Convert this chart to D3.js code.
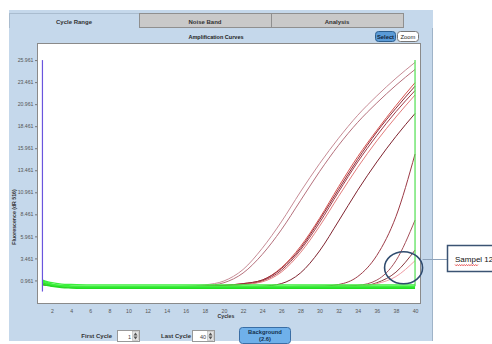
<!DOCTYPE html>
<html>
<head>
<meta charset="utf-8">
<script src="https://cdn.jsdelivr.net/npm/d3@7"></script>
<style>
  html, body { margin: 0; padding: 0; background: #fff; }
  svg { display: block; font-family: 'Liberation Sans', Arial, sans-serif; }
</style>
</head>
<body>
<svg id="chart" width="492" height="344"></svg>
<script>
const cycles = [1, 2, 3, 4, 6, 8, 10, 12, 14, 16, 18, 20, 22, 24, 26, 28, 30, 32, 34, 36, 38, 40]

// positive samples
const sampleA1 = [0.7, 0.45, 0.3, 0.25, 0.2, 0.2, 0.2, 0.2, 0.25, 0.3, 0.45, 0.9, 2.2, 4.6, 7.6, 11.0, 14.2, 17.1, 19.7, 21.9, 23.9, 25.7]
const sampleA2 = [0.6, 0.4, 0.3, 0.25, 0.2, 0.2, 0.2, 0.2, 0.2, 0.25, 0.35, 0.7, 1.8, 3.9, 6.7, 10.0, 13.3, 16.3, 18.9, 21.1, 23.1, 24.9]
const sampleB1 = [0.6, 0.4, 0.3, 0.25, 0.2, 0.2, 0.2, 0.2, 0.2, 0.2, 0.3, 0.4, 0.6, 1.0, 2.4, 4.8, 8.0, 11.6, 15.0, 18.0, 20.8, 23.4]
const sampleB2 = [0.5, 0.35, 0.25, 0.2, 0.2, 0.2, 0.2, 0.2, 0.2, 0.2, 0.25, 0.35, 0.5, 0.9, 2.1, 4.4, 7.5, 11.0, 14.4, 17.4, 20.1, 22.5]
const sampleB3 = [0.6, 0.4, 0.3, 0.2, 0.2, 0.2, 0.2, 0.2, 0.2, 0.2, 0.25, 0.3, 0.5, 0.8, 1.9, 4.1, 7.1, 10.5, 13.8, 16.8, 19.5, 22.0]
const sampleB4 = [0.5, 0.35, 0.3, 0.25, 0.2, 0.2, 0.2, 0.2, 0.2, 0.2, 0.3, 0.4, 0.6, 1.0, 2.3, 4.6, 7.8, 11.3, 14.7, 17.8, 20.5, 23.0]
const sampleC = [0.6, 0.4, 0.3, 0.25, 0.2, 0.2, 0.2, 0.2, 0.2, 0.2, 0.2, 0.25, 0.25, 0.3, 0.6, 1.8, 4.3, 7.7, 11.2, 14.4, 17.3, 19.9]
const sampleD = [0.5, 0.35, 0.25, 0.2, 0.2, 0.2, 0.2, 0.2, 0.2, 0.2, 0.2, 0.2, 0.2, 0.25, 0.25, 0.3, 0.3, 0.5, 1.4, 3.8, 8.2, 15.3]
const sampleE = [0.6, 0.4, 0.3, 0.25, 0.2, 0.2, 0.2, 0.2, 0.2, 0.2, 0.2, 0.2, 0.2, 0.2, 0.25, 0.25, 0.3, 0.3, 0.4, 1.0, 3.2, 7.8]
const sampleF = [0.5, 0.35, 0.25, 0.2, 0.2, 0.2, 0.2, 0.2, 0.2, 0.2, 0.2, 0.2, 0.2, 0.2, 0.2, 0.25, 0.25, 0.3, 0.3, 0.7, 1.9, 4.4]
const sampel12 = [0.6, 0.4, 0.3, 0.25, 0.2, 0.2, 0.2, 0.2, 0.2, 0.2, 0.2, 0.2, 0.2, 0.2, 0.2, 0.2, 0.25, 0.25, 0.3, 0.6, 1.4, 3.2]

// negative samples (flat, green)
const neg1 = [0.9, 0.55, 0.4, 0.35, 0.3, 0.3, 0.3, 0.3, 0.3, 0.3, 0.3, 0.3, 0.3, 0.3, 0.3, 0.3, 0.3, 0.3, 0.3, 0.3, 0.3, 0.3]
const neg2 = [0.7, 0.4, 0.25, 0.2, 0.15, 0.15, 0.15, 0.15, 0.15, 0.15, 0.15, 0.15, 0.15, 0.15, 0.15, 0.15, 0.15, 0.15, 0.15, 0.15, 0.15, 0.15]
const neg3 = [1.0, 0.7, 0.55, 0.5, 0.45, 0.45, 0.45, 0.45, 0.45, 0.45, 0.45, 0.45, 0.45, 0.45, 0.45, 0.45, 0.45, 0.45, 0.45, 0.45, 0.45, 0.45]
const neg4 = [0.5, 0.3, 0.15, 0.1, 0.05, 0.05, 0.05, 0.05, 0.05, 0.05, 0.05, 0.05, 0.05, 0.05, 0.05, 0.05, 0.05, 0.05, 0.05, 0.05, 0.05, 0.05]
const neg5 = [0.8, 0.5, 0.35, 0.25, 0.22, 0.22, 0.22, 0.22, 0.22, 0.22, 0.22, 0.22, 0.22, 0.22, 0.22, 0.22, 0.22, 0.22, 0.22, 0.22, 0.22, 0.22]

const positives = [
  { name: 'A1', values: sampleA1, color: '#c78c96' },
  { name: 'A2', values: sampleA2, color: '#b5707c' },
  { name: 'B1', values: sampleB1, color: '#d9534f' },
  { name: 'B2', values: sampleB2, color: '#a23b48' },
  { name: 'B3', values: sampleB3, color: '#e27c7c' },
  { name: 'B4', values: sampleB4, color: '#8e2a36' },
  { name: 'C', values: sampleC, color: '#7f2430' },
  { name: 'D', values: sampleD, color: '#9c3a46' },
  { name: 'E', values: sampleE, color: '#a5505a' },
  { name: 'F', values: sampleF, color: '#8a3a40' },
  { name: 'Sampel 12', values: sampel12, color: '#f09aa2' },
]
const negatives = [neg1, neg2, neg3, neg4, neg5]

const yTicks = [0.961, 3.461, 5.961, 8.461, 10.961, 13.461, 15.961, 18.461, 20.961, 23.461, 25.961]
const xTicks = [2, 4, 6, 8, 10, 12, 14, 16, 18, 20, 22, 24, 26, 28, 30, 32, 34, 36, 38, 40]
const tabs = ['Cycle Range', 'Noise Band', 'Analysis']
const firstCycle = 1
const lastCycle = 40
const background = 2.6
const markerTop = 25.961

const svg = d3.select('#chart')

const plot = { left: 37, top: 43, right: 420, bottom: 303 }

// Panel background
svg.append('rect').attr('x', 9).attr('y', 10).attr('width', 424).attr('height', 331)
  .attr('fill', '#c5d8eb')
svg.append('line').attr('x1', 432.5).attr('x2', 432.5).attr('y1', 28).attr('y2', 341)
  .attr('stroke', '#9fb3c8')

// Tabs
const tabX = [9, 139, 271, 403]
tabs.forEach((t, i) => {
  const x0 = tabX[i]
  const w = tabX[i + 1] - x0
  svg.append('rect')
    .attr('x', x0 + 0.5).attr('y', 13.5).attr('width', w).attr('height', 14)
    .attr('fill', i === 0 ? '#c5d8eb' : '#c9c9c9')
    .attr('stroke', i === 0 ? '#a9bccf' : '#8f8f8f')
  svg.append('text')
    .attr('x', x0 + w / 2).attr('y', 23.5)
    .attr('text-anchor', 'middle')
    .attr('font-size', '6px').attr('font-weight', 'bold')
    .attr('fill', '#333')
    .text(t)
})
// selected tab opens into panel
svg.append('line').attr('x1', 10).attr('x2', 139).attr('y1', 27.5).attr('y2', 27.5)
  .attr('stroke', '#c5d8eb').attr('stroke-width', 1.2)

// Chart title
svg.append('text').attr('x', 216).attr('y', 38.5).attr('text-anchor', 'middle')
  .attr('font-size', '5.5px').attr('font-weight', 'bold').attr('fill', '#222')
  .text('Amplification Curves')

// Select / Zoom buttons
svg.append('rect').attr('x', 375.5).attr('y', 31.5).attr('width', 20).attr('height', 10).attr('rx', 3)
  .attr('fill', '#5a9ad6').attr('stroke', '#2d5f8f')
svg.append('text').attr('x', 385.5).attr('y', 39).attr('text-anchor', 'middle')
  .attr('font-size', '5.8px').attr('font-weight', 'bold').attr('fill', '#10243a').text('Select')
svg.append('rect').attr('x', 397.5).attr('y', 31.5).attr('width', 21).attr('height', 10).attr('rx', 3)
  .attr('fill', '#fff').attr('stroke', '#777')
svg.append('text').attr('x', 408).attr('y', 39).attr('text-anchor', 'middle')
  .attr('font-size', '5.8px').attr('fill', '#222').text('Zoom')

// Plot area
svg.append('rect')
  .attr('x', plot.left + 0.5).attr('y', plot.top + 0.5)
  .attr('width', plot.right - plot.left).attr('height', plot.bottom - plot.top)
  .attr('fill', '#fff').attr('stroke', '#8a8a8a')

const x = d3.scaleLinear().domain([0.43, 40.52]).range([plot.left, plot.right])
const y = d3.scaleLinear().domain([-1.6, 27.9]).range([plot.bottom, plot.top])

// Axes
const yAxis = svg.append('g').attr('transform', `translate(${plot.left},0)`)
  .call(d3.axisLeft(y).tickValues(yTicks).tickSize(2).tickPadding(1.5).tickFormat(d3.format('.3f')))
yAxis.select('.domain').remove()
yAxis.selectAll('line').attr('stroke', '#777')
yAxis.selectAll('text').attr('font-size', '5.2px').attr('fill', '#555').attr('font-family', 'Liberation Sans, Arial')

const xAxis = svg.append('g').attr('transform', `translate(0,${plot.bottom})`)
  .call(d3.axisBottom(x).tickValues(xTicks).tickSize(0).tickPadding(6))
xAxis.select('.domain').remove()
xAxis.selectAll('text').attr('font-size', '5.2px').attr('fill', '#555').attr('font-family', 'Liberation Sans, Arial')

svg.append('text').attr('x', x(20) + 2).attr('y', 318).attr('text-anchor', 'middle')
  .attr('font-size', '5.2px').attr('font-weight', 'bold').attr('fill', '#333').text('Cycles')

svg.append('text')
  .attr('transform', `translate(16,${(plot.top + plot.bottom) / 2 + 44}) rotate(-90)`)
  .attr('text-anchor', 'middle')
  .attr('font-size', '5.2px').attr('font-weight', 'bold').attr('fill', '#333')
  .text('Fluorescence (dR 516)')

// Curves
const line = d3.line()
  .x((d, i) => x(cycles[i]))
  .y(d => y(d))
  .curve(d3.curveMonotoneX)

const curves = svg.append('g').attr('fill', 'none')

curves.selectAll('path.pos')
  .data(positives)
  .enter()
  .append('path')
  .attr('class', 'pos')
  .attr('d', d => line(d.values))
  .attr('stroke', d => d.color)
  .attr('stroke-width', 1)

curves.selectAll('path.neg')
  .data(negatives)
  .enter()
  .append('path')
  .attr('class', 'neg')
  .attr('d', d => line(d))
  .attr('stroke', (d, i) => (i % 2 ? '#22dd22' : '#3cf03c'))
  .attr('stroke-width', 1.3)

// cycle range markers
svg.append('line')
  .attr('x1', x(firstCycle)).attr('x2', x(firstCycle))
  .attr('y1', y(markerTop)).attr('y2', y(-0.3))
  .attr('stroke', '#6a55dd').attr('stroke-width', 1.2)
svg.append('line')
  .attr('x1', x(lastCycle)).attr('x2', x(lastCycle))
  .attr('y1', y(markerTop)).attr('y2', y(0.3))
  .attr('stroke', '#4fe04f').attr('stroke-width', 1.2)

// Bottom controls
function spinBox(x0, label) {
  svg.append('rect').attr('x', x0 + 0.5).attr('y', 330.5).attr('width', 22).attr('height', 11)
    .attr('fill', '#fff').attr('stroke', '#999')
  svg.append('text').attr('x', x0 + 14).attr('y', 338.5).attr('text-anchor', 'end')
    .attr('font-size', '5.5px').attr('fill', '#444').text(label)
  svg.append('rect').attr('x', x0 + 15.5).attr('y', 331.5).attr('width', 6).attr('height', 9)
    .attr('fill', '#e4e4e4').attr('stroke', '#aaa').attr('stroke-width', 0.5)
  svg.append('path').attr('d', `M${x0 + 16.5},335.5 L${x0 + 20.5},335.5 L${x0 + 18.5},332.5 Z`).attr('fill', '#555')
  svg.append('path').attr('d', `M${x0 + 16.5},336.5 L${x0 + 20.5},336.5 L${x0 + 18.5},339.5 Z`).attr('fill', '#555')
}
svg.append('text').attr('x', 112).attr('y', 338).attr('text-anchor', 'end')
  .attr('font-size', '6px').attr('font-weight', 'bold').attr('fill', '#333').text('First Cycle')
spinBox(117, String(firstCycle))
svg.append('text').attr('x', 191).attr('y', 338).attr('text-anchor', 'end')
  .attr('font-size', '6px').attr('font-weight', 'bold').attr('fill', '#333').text('Last Cycle')
spinBox(192, String(lastCycle))

svg.append('rect').attr('x', 239.5).attr('y', 327.5).attr('width', 51).attr('height', 16).attr('rx', 3)
  .attr('fill', '#6fb0ea').attr('stroke', '#3a6ea5')
svg.append('text').attr('x', 265).attr('y', 334).attr('text-anchor', 'middle')
  .attr('font-size', '5.8px').attr('font-weight', 'bold').attr('fill', '#14304f').text('Background')
svg.append('text').attr('x', 265).attr('y', 341).attr('text-anchor', 'middle')
  .attr('font-size', '5.8px').attr('font-weight', 'bold').attr('fill', '#14304f').text(`(${background})`)

// Annotation: Sampel 12
const ex = x(38.8)
const ey = y(2.4)
svg.append('line').attr('x1', ex + 19).attr('x2', 447).attr('y1', 259.5).attr('y2', 259.5)
  .attr('stroke', '#8fa3ba').attr('stroke-width', 1)
svg.append('ellipse').attr('cx', ex).attr('cy', ey).attr('rx', 19).attr('ry', 16)
  .attr('fill', 'none').attr('stroke', '#2f4b6e').attr('stroke-width', 1.6)
svg.append('rect').attr('x', 447.5).attr('y', 245.5).attr('width', 60).attr('height', 26)
  .attr('fill', '#fff').attr('stroke', '#3b5373').attr('stroke-width', 1.5)
svg.append('text').attr('x', 455).attr('y', 262).attr('font-size', '8px').attr('fill', '#111')
  .text('Sampel 12')
// spell-check squiggle under "Sampel"
let sq = 'M455,264.5'
for (let k = 0; k < 20; k++) sq += ` l1.15,${k % 2 ? -1.3 : 1.3}`
svg.append('path').attr('d', sq).attr('fill', 'none').attr('stroke', '#e02020').attr('stroke-width', 0.7)
</script>
</body>
</html>
